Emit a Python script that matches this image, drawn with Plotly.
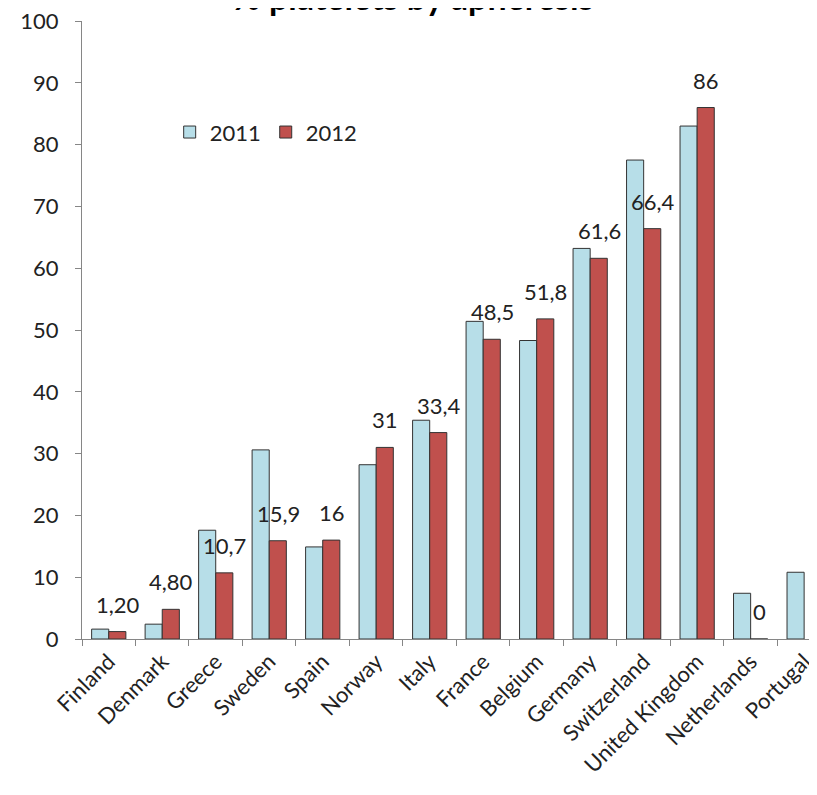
import plotly.graph_objects as go

# data
countries = ['Finland', 'Denmark', 'Greece', 'Sweden', 'Spain', 'Norway', 'Italy',
             'France', 'Belgium', 'Germany', 'Switzerland', 'United Kingdom',
             'Netherlands', 'Portugal']
values_2011 = [1.6, 2.4, 17.6, 30.6, 14.9, 28.2, 35.4, 51.4, 48.3, 63.2, 77.5, 83.0, 7.4, 10.8]
values_2012 = [1.2, 4.8, 10.7, 15.9, 16.0, 31.0, 33.4, 48.5, 51.8, 61.6, 66.4, 86.0, 0.0, None]
labels_2012 = ['1,20', '4,80', '10,7', '15,9', '16', '31', '33,4', '48,5', '51,8',
               '61,6', '66,4', '86', '0', '']
y_ticks = list(range(0, 101, 10))

font_family = 'Lato, "Open Sans", Arial'

fig = go.Figure()

fig.add_trace(go.Bar(
    x=countries, y=values_2011, name='2011',
    marker=dict(color='#B7DEE8', line=dict(color='#333333', width=1)),
))
fig.add_trace(go.Bar(
    x=countries, y=values_2012, name='2012',
    marker=dict(color='#C0504D', line=dict(color='#333333', width=1)),
))

# value labels above the 2012 bars
for c, v, t in zip(countries, values_2012, labels_2012):
    if v is None or not t:
        continue
    fig.add_annotation(x=c, y=v, text=t, showarrow=False, xshift=9, yshift=12,
                       yanchor='bottom', font=dict(size=22, color='#222222'))

fig.update_layout(
    width=817, height=795,
    title=dict(text='<b>% platelets by apheresis</b>', x=0.496, xanchor='center',
               xref='container', y=0.997, yanchor='bottom', yref='container',
               font=dict(size=34, color='black')),
    barmode='group', bargap=0.36, bargroupgap=0,
    plot_bgcolor='white', paper_bgcolor='white',
    margin=dict(l=74, r=0, t=13, b=164),
    font=dict(family=font_family, size=22, color='#222222'),
    showlegend=True,
    legend=dict(orientation='h', x=0.118, y=0.82, xanchor='left', yanchor='middle',
                font=dict(size=22), bgcolor='rgba(0,0,0,0)', traceorder='normal'),
    xaxis=dict(
        range=[-0.5, 13.39], tickson='boundaries', ticks='outside', ticklen=6,
        tickcolor='#868686', showline=True, linecolor='#868686', linewidth=1,
        tickangle=-45, showgrid=False, tickfont=dict(size=22), automargin=False,
    ),
    yaxis=dict(
        range=[0, 100], tickvals=y_ticks, ticks='outside', ticklen=6,
        tickcolor='#868686', showline=True, linecolor='#868686', linewidth=1,
        showgrid=False, zeroline=False, tickfont=dict(size=22), automargin=False,
        ticklabelstandoff=12, ticklabeloverflow='allow',
    ),
)

fig.write_html("out.html")
